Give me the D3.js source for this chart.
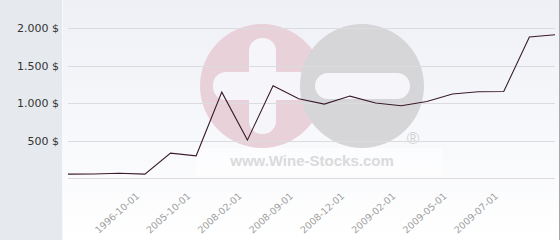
<!DOCTYPE html>
<html>
<head>
<meta charset="utf-8">
<script src="https://cdn.jsdelivr.net/npm/d3@7"></script>
<style>
  body { margin: 0; background: #fff; }
  svg { display: block; }
</style>
</head>
<body>
<svg id="chart"></svg>
<script>

// values (one per point, evenly spaced categories)
var prices = [56, 58, 68, 56, 336, 300, 1149, 509, 1233, 1060, 989, 1096, 1003, 967, 1024, 1123, 1153, 1157, 1883, 1913];
// only every second category carries a label
var tickIndex = [3, 5, 7, 9, 11, 13, 15, 17];
var tickLabels = ["1996-10-01", "2005-10-01", "2008-02-01", "2008-09-01", "2008-12-01", "2009-02-01", "2009-05-01", "2009-07-01"];
var yTicks = [0, 500, 1000, 1500, 2000];

var width = 560, height = 240;

var svg = d3.select("#chart")
    .attr("width", width)
    .attr("height", height);

var defs = svg.append("defs");
var grad = defs.append("linearGradient")
    .attr("id", "bg")
    .attr("x1", 0).attr("y1", 0).attr("x2", 0).attr("y2", 1);
grad.append("stop").attr("offset", "0%").attr("stop-color", "#eef0f6");
grad.append("stop").attr("offset", "100%").attr("stop-color", "#ffffff");

// plot background
svg.append("rect")
    .attr("x", 63).attr("y", 0)
    .attr("width", width - 63).attr("height", height)
    .attr("fill", "url(#bg)");

// left panel behind the value labels
svg.append("rect")
    .attr("x", 0).attr("y", 0)
    .attr("width", 62).attr("height", height)
    .attr("fill", "#e6eaee");
svg.append("line")
    .attr("x1", 62.5).attr("x2", 62.5).attr("y1", 0).attr("y2", height)
    .attr("stroke", "#f8f9fb");

// right border
svg.append("line")
    .attr("x1", 559.5).attr("x2", 559.5).attr("y1", 0).attr("y2", height)
    .attr("stroke", "#a8a8a8");

var x = d3.scalePoint()
    .domain(d3.range(prices.length))
    .range([68, 555]);

var y = d3.scaleLinear()
    .domain([0, 2000])
    .range([178.3, 28.3]);

// watermark
var wm = svg.append("g").attr("class", "watermark");
wm.append("rect")
    .attr("x", 196).attr("y", 148).attr("width", 246).attr("height", 28)
    .attr("fill", "#ffffff").attr("opacity", 0.55);
wm.append("circle").attr("cx", 262).attr("cy", 86).attr("r", 62).attr("fill", "#e9d1d9");
wm.append("rect").attr("x", 249).attr("y", 38).attr("width", 27).attr("height", 96).attr("rx", 13)
    .attr("fill", "#f6f6fa");
wm.append("rect").attr("x", 213).attr("y", 72).attr("width", 98).attr("height", 28).attr("rx", 13)
    .attr("fill", "#f6f6fa");
wm.append("circle").attr("cx", 362).attr("cy", 86).attr("r", 62).attr("fill", "#d6d6d8");
wm.append("rect").attr("x", 315).attr("y", 73).attr("width", 95).attr("height", 26).attr("rx", 13)
    .attr("fill", "#f6f6fa");
wm.append("text")
    .attr("x", 413).attr("y", 144)
    .attr("text-anchor", "middle")
    .attr("font-family", "Liberation Sans, Arial, sans-serif")
    .attr("font-size", 17)
    .attr("fill", "#d2d2d4")
    .text("\u00ae");
wm.append("text")
    .attr("x", 312).attr("y", 166)
    .attr("text-anchor", "middle")
    .attr("font-family", "Liberation Sans, Arial, sans-serif")
    .attr("font-weight", "bold")
    .attr("font-size", 15)
    .attr("fill", "#dadadc")
    .text("www.Wine-Stocks.com");

// grid lines
svg.append("g")
    .selectAll("line")
    .data(yTicks).enter().append("line")
    .attr("x1", 68).attr("x2", 555)
    .attr("y1", function (d) { return Math.round(y(d)) + 0.5; })
    .attr("y2", function (d) { return Math.round(y(d)) + 0.5; })
    .attr("stroke", "#dcdcde")
    .attr("stroke-width", 1);

// y labels
svg.append("g")
    .selectAll("text")
    .data(yTicks.filter(function (d) { return d > 0; })).enter().append("text")
    .attr("x", 59)
    .attr("y", function (d) { return y(d); })
    .attr("dy", "0.35em")
    .attr("text-anchor", "end")
    .attr("font-family", "DejaVu Sans, sans-serif")
    .attr("font-size", 11)
    .attr("fill", "#333")
    .text(function (d) { return d3.format(",")(d).replace(",", ".") + " $"; });

// x labels
svg.append("g")
    .selectAll("text")
    .data(tickIndex).enter().append("text")
    .attr("transform", function (d) { return "translate(" + (x(d) - 5) + ",197) rotate(-42)"; })
    .attr("text-anchor", "end")
    .attr("font-family", "DejaVu Sans, sans-serif")
    .attr("font-size", 9.5)
    .attr("fill", "#a0a0a0")
    .text(function (d, i) { return tickLabels[i]; });

// price line
var line = d3.line()
    .x(function (d, i) { return x(i); })
    .y(function (d) { return y(d); });

svg.append("path")
    .datum(prices)
    .attr("d", line)
    .attr("fill", "none")
    .attr("stroke", "#3a1a2c")
    .attr("stroke-width", 1.1);

</script>
</body>
</html>
